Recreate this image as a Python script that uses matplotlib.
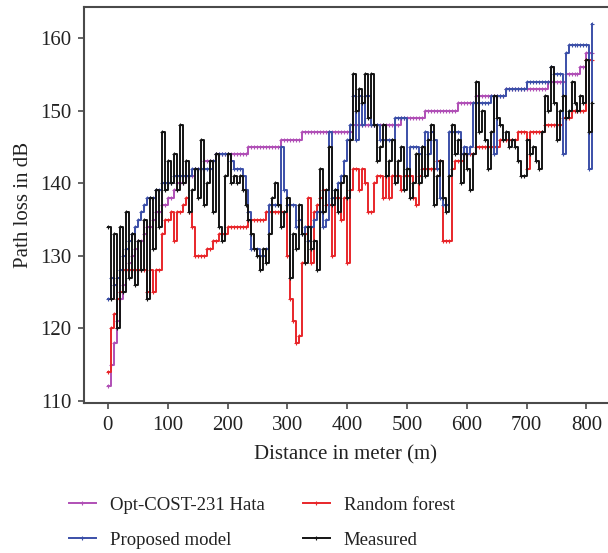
import matplotlib
matplotlib.use("Agg")
import matplotlib.pyplot as plt
import numpy as np

distance = list(range(0, 815, 5))

measured = [134, 124, 133, 120, 134, 125, 136, 127, 133, 126, 132, 128, 135, 124, 138, 131,
            139, 134, 147, 139, 143, 140, 144, 139, 148, 140, 143, 136, 139, 142, 138, 146,
            137, 140, 143, 136, 144, 134, 132, 141, 144, 140, 141, 140, 141, 139, 137, 135,
            133, 131, 130, 128, 131, 129, 133, 138, 140, 137, 134, 136, 138, 127, 133, 131,
            137, 133, 129, 134, 131, 132, 128, 142, 136, 139, 145, 137, 139, 136, 140, 141,
            138, 146, 155, 150, 153, 151, 155, 149, 155, 148, 143, 145, 148, 141, 143, 146,
            140, 143, 145, 139, 142, 138, 140, 144, 140, 145, 141, 146, 148, 137, 141, 143,
            138, 136, 141, 148, 144, 146, 140, 144, 142, 139, 144, 154, 147, 150, 146, 142,
            147, 152, 149, 148, 146, 147, 145, 146, 145, 143, 141, 141, 146, 144, 145, 143,
            142, 147, 152, 150, 156, 151, 146, 150, 152, 149, 150, 154, 151, 150, 152, 151,
            157, 147, 151]

random_forest = [114, 120, 122, 124, 125, 128, 128, 128, 128, 128, 128, 128, 128, 125, 128, 125,
                 128, 128, 133, 135, 135, 136, 132, 136, 136, 137, 138, 136, 134, 130, 130, 130,
                 130, 131, 131, 132, 132, 133, 133, 133, 134, 134, 134, 134, 134, 134, 134, 135,
                 135, 135, 135, 135, 135, 136, 136, 136, 136, 136, 136, 136, 130, 124, 121, 118,
                 119, 129, 133, 138, 129, 136, 137, 138, 139, 137, 137, 130, 138, 138, 135, 138,
                 129, 139, 142, 142, 139, 142, 140, 136, 136, 140, 141, 141, 138, 141, 138, 141,
                 141, 141, 139, 141, 141, 141, 138, 137, 141, 142, 142, 142, 142, 142, 143, 143,
                 132, 132, 132, 142, 143, 143, 143, 144, 144, 144, 144, 145, 145, 145, 145, 145,
                 145, 145, 145, 146, 146, 146, 146, 146, 146, 147, 147, 147, 142, 147, 147, 147,
                 147, 147, 148, 148, 148, 148, 148, 148, 149, 149, 149, 150, 150, 150, 150, 150,
                 157, 157, 157]

proposed = [124, 127, 126, 127, 128, 130, 131, 132, 133, 134, 135, 136, 137, 138, 138, 138,
            139, 139, 140, 140, 140, 140, 141, 141, 141, 141, 141, 141, 142, 142, 142, 142,
            142, 142, 142, 143, 144, 144, 144, 144, 144, 143, 142, 142, 142, 141, 139, 136,
            131, 131, 131, 130, 130, 131, 137, 137, 137, 137, 145, 139, 137, 137, 137, 134,
            135, 133, 134, 132, 134, 135, 136, 136, 134, 135, 147, 138, 139, 140, 141, 143,
            146, 148, 152, 146, 152, 148, 152, 152, 148, 148, 148, 146, 146, 146, 146, 146,
            149, 149, 149, 149, 142, 145, 145, 145, 144, 145, 147, 144, 147, 146, 142, 138,
            137, 137, 147, 147, 147, 147, 144, 145, 144, 145, 151, 151, 151, 151, 151, 151,
            152, 144, 152, 152, 152, 153, 153, 153, 153, 153, 153, 153, 154, 154, 154, 154,
            154, 154, 154, 154, 156, 155, 155, 155, 144, 158, 159, 159, 159, 159, 159, 159,
            159, 142, 162]

opt_cost_hata = [112, 115, 118, 121, 124, 126, 128, 129, 130, 131, 132, 132, 133, 134, 134, 135,
                 136, 136, 137, 137, 138, 138, 139, 140, 140, 140, 141, 141, 141, 142, 142, 142,
                 143, 143, 143, 143, 144, 144, 144, 144, 144, 144, 144, 144, 144, 144, 144, 145,
                 145, 145, 145, 145, 145, 145, 145, 145, 145, 145, 146, 146, 146, 146, 146, 146,
                 146, 147, 147, 147, 147, 147, 147, 147, 147, 147, 147, 147, 147, 147, 147, 147,
                 147, 147, 148, 148, 148, 148, 148, 148, 148, 148, 148, 148, 148, 148, 148, 148,
                 148, 148, 149, 149, 149, 149, 149, 149, 149, 149, 150, 150, 150, 150, 150, 150,
                 150, 150, 150, 150, 150, 151, 151, 151, 151, 151, 151, 152, 152, 152, 152, 152,
                 152, 152, 152, 152, 152, 153, 153, 153, 153, 153, 153, 153, 153, 153, 153, 153,
                 153, 153, 153, 154, 154, 154, 154, 154, 154, 155, 155, 155, 155, 155, 156, 156,
                 158, 158, 158]

x_ticks = [0, 100, 200, 300, 400, 500, 600, 700, 800]
y_ticks = [110, 120, 130, 140, 150, 160]

plt.rcParams['font.family'] = ['Liberation Serif', 'DejaVu Serif']

fig = plt.figure(figsize=(6.08, 5.53), dpi=100)
ax = fig.add_axes([84/608, 150/553, 1 - 84/608, 396/553])

series = [
    ("Opt-COST-231 Hata", opt_cost_hata, "#B04FB6", 2),
    ("Proposed model", proposed, "#3B4FA8", 3),
    ("Random forest", random_forest, "#E8262A", 2.5),
    ("Measured", measured, "#141414", 4),
]
handles = []
for label, vals, col, z in series:
    ln, = ax.plot(distance, vals, drawstyle="steps-post", color=col, lw=1.4,
                  marker="+", markersize=3, markeredgewidth=0.8, label=label, zorder=z)
    handles.append(ln)

ax.set_xlim(-40, 836)
ax.set_ylim(109.7, 164.3)
ax.set_xticks(x_ticks)
ax.set_yticks(y_ticks)
ax.spines['right'].set_visible(False)
for s in ['left', 'bottom', 'top']:
    ax.spines[s].set_color('#4a4a4a')
    ax.spines[s].set_linewidth(1.5)
ax.tick_params(direction='out', length=4, width=1.2, color='#4a4a4a',
               labelsize=15, labelcolor='#222222', pad=5)
ax.set_xlabel("Distance in meter (m)", fontsize=15, color='#222222', labelpad=8)
ax.set_ylabel("Path loss in dB", fontsize=15, color='#222222', labelpad=5)

order = [handles[0], handles[1], handles[2], handles[3]]
fig.legend(order, [h.get_label() for h in order], ncol=2, frameon=False,
           loc='upper left', bbox_to_anchor=(52/608, 1 - 480/553), fontsize=13.5,
           handlelength=1.45, columnspacing=2.0, labelspacing=0.95, handletextpad=0.75,
           labelcolor='#222222')

fig.savefig("out.png", dpi=100)
